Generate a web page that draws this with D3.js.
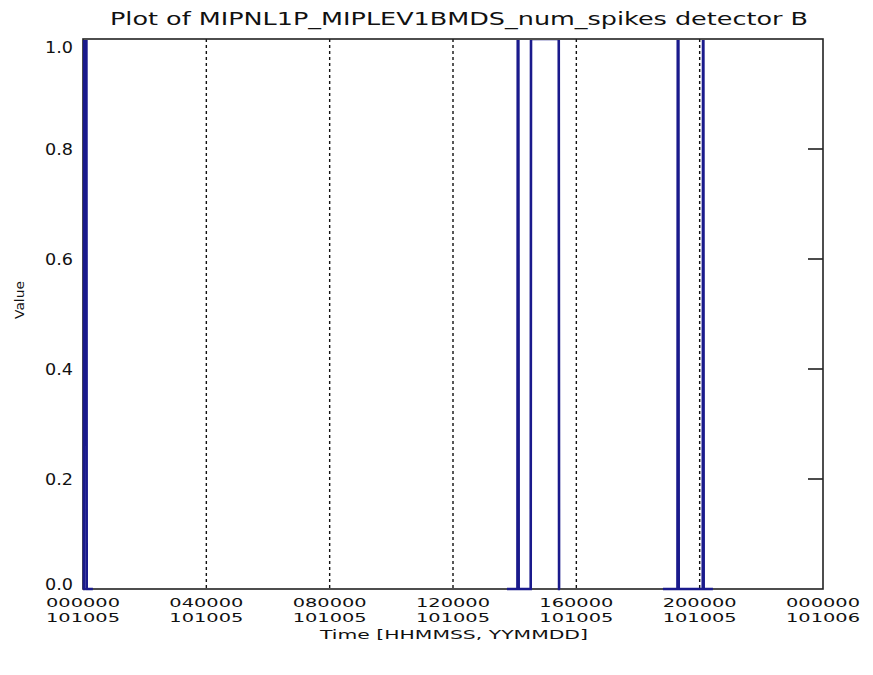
<!DOCTYPE html>
<html>
<head>
<meta charset="utf-8">
<script src="https://cdn.jsdelivr.net/npm/d3@7"></script>
<style>
  html, body { margin: 0; padding: 0; background: #fff; }
  svg { display: block; }
  text { font-family: "DejaVu Sans", sans-serif; fill: #111; }
</style>
</head>
<body>
<svg id="chart" width="873" height="675"></svg>
<script>
// ---- data (time in hours since 000000 101005; null breaks the line) ----
const times  = [0.00, 0.03, 0.04, 0.11, 0.12, 0.32, null,
                13.75, 14.09, 14.10, 14.12, 14.13, 14.52, 14.53, 15.43, 15.44, 15.47, null,
                18.81, 19.28, 19.29, 19.31, 19.32, 20.10, 20.11, 20.12, 20.13, 20.43];
const values = [0, 0, 1, 1, 0, 0, null,
                0, 0, 1, 1, 0, 0, 1, 1, 0, 0, null,
                0, 0, 1, 1, 0, 0, 1, 1, 0, 0];
const xTickHours  = [0, 4, 8, 12, 16, 20, 24];
const xTickLine1  = ["000000", "040000", "080000", "120000", "160000", "200000", "000000"];
const xTickLine2  = ["101005", "101005", "101005", "101005", "101005", "101005", "101006"];
const yTicks      = [0.0, 0.2, 0.4, 0.6, 0.8, 1.0];
const titleText   = "Plot of MIPNL1P_MIPLEV1BMDS_num_spikes detector B";
const xLabelText  = "Time [HHMMSS, YYMMDD]";
const yLabelText  = "Value";

// ---- layout ----
const L = 83, R = 823, T = 39, B = 589;
const svg = d3.select("#chart");
const x = d3.scaleLinear().domain([0, 24]).range([L, R]);
const y = d3.scaleLinear().domain([0, 1]).range([B, T]);

svg.append("defs").append("clipPath").attr("id", "plotclip")
  .append("rect").attr("x", L - 2).attr("y", T + 1)
  .attr("width", R - L + 4).attr("height", B - T + 4);

// dotted vertical grid (x ticks with full length)
svg.append("g").selectAll("line")
  .data(xTickHours.filter(h => h > 0 && h < 24))
  .join("line")
  .attr("x1", d => x(d)).attr("x2", d => x(d))
  .attr("y1", T).attr("y2", B)
  .attr("stroke", "#111").attr("stroke-width", 1.4)
  .attr("stroke-dasharray", "3,3");

// right y ticks (inner)
const tickLen = 15;
svg.append("g").selectAll("line").data(yTicks.filter(v => v > 0 && v < 1)).join("line")
  .attr("x1", R - tickLen).attr("x2", R)
  .attr("y1", d => y(d)).attr("y2", d => y(d))
  .attr("stroke", "#111").attr("stroke-width", 1.5);

// frame
svg.append("rect")
  .attr("x", L).attr("y", T).attr("width", R - L).attr("height", B - T)
  .attr("fill", "none").attr("stroke", "#222").attr("stroke-width", 1.6);

// data line (drawn over the frame, clipped at the top)
const pts = times.map((t, i) => ({ t, v: values[i] }));
const line = d3.line()
  .defined(d => d.t !== null && d.v !== null)
  .x(d => x(d.t)).y(d => y(d.v));
svg.append("path")
  .datum(pts)
  .attr("clip-path", "url(#plotclip)")
  .attr("d", line)
  .attr("fill", "none")
  .attr("stroke", "#1a1a8c")
  .attr("stroke-width", 2.6);

// y tick labels
svg.append("g").selectAll("text").data(yTicks).join("text")
  .attr("x", 73)
  .attr("y", d => Math.min(Math.max(y(d), T + 8), B - 5) + 5.5)
  .attr("text-anchor", "end")
  .attr("font-size", 15)
  .attr("textLength", 28).attr("lengthAdjust", "spacingAndGlyphs")
  .text(d => d.toFixed(1));

// x tick labels
const xl = svg.append("g");
xl.selectAll("text.a").data(xTickHours).join("text")
  .attr("class", "a")
  .attr("x", d => x(d)).attr("y", 607)
  .attr("text-anchor", "middle").attr("font-size", 13)
  .attr("textLength", 74).attr("lengthAdjust", "spacingAndGlyphs")
  .text((d, i) => xTickLine1[i]);
xl.selectAll("text.b").data(xTickHours).join("text")
  .attr("class", "b")
  .attr("x", d => x(d)).attr("y", 622)
  .attr("text-anchor", "middle").attr("font-size", 13)
  .attr("textLength", 74).attr("lengthAdjust", "spacingAndGlyphs")
  .text((d, i) => xTickLine2[i]);

// axis titles
svg.append("text")
  .attr("x", 454).attr("y", 639)
  .attr("text-anchor", "middle").attr("font-size", 13)
  .attr("textLength", 268).attr("lengthAdjust", "spacingAndGlyphs")
  .text(xLabelText);

svg.append("text")
  .attr("transform", "translate(24,300) rotate(-90)")
  .attr("text-anchor", "middle").attr("font-size", 12)
  .attr("textLength", 38).attr("lengthAdjust", "spacingAndGlyphs")
  .text(yLabelText);

svg.append("text")
  .attr("x", 459).attr("y", 25)
  .attr("text-anchor", "middle").attr("font-size", 17)
  .attr("textLength", 698).attr("lengthAdjust", "spacingAndGlyphs")
  .text(titleText);
</script>
</body>
</html>
